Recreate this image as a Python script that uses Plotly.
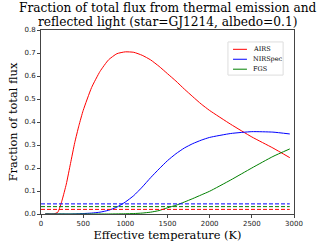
import plotly.graph_objects as go

temps = [50, 100, 150, 200, 250, 300, 350, 400, 450, 500, 600, 700, 800, 900, 1000,
         1100, 1200, 1300, 1400, 1500, 1600, 1700, 1800, 1900, 2000, 2250, 2500, 2750, 2950]
airs = [0, 0, 0, 0.008, 0.06, 0.13, 0.22, 0.31, 0.385, 0.45, 0.55, 0.62, 0.67, 0.697, 0.705,
        0.703, 0.69, 0.67, 0.642, 0.61, 0.578, 0.543, 0.51, 0.478, 0.45, 0.39, 0.335, 0.287, 0.245]
nirspec = [0, 0, 0, 0, 0, 0, 0, 0.0005, 0.001, 0.002, 0.004, 0.008, 0.016, 0.03, 0.052,
           0.08, 0.117, 0.158, 0.196, 0.232, 0.262, 0.287, 0.306, 0.321, 0.333, 0.35, 0.358, 0.356, 0.348]
fgs = [0, 0, 0, 0, 0, 0, 0, 0, 0, 0, 0, 0, 0, 0.0005, 0.001,
       0.002, 0.004, 0.008, 0.015, 0.027, 0.038, 0.052, 0.067, 0.083, 0.099, 0.148, 0.20, 0.25, 0.283]
noise_T = [0, 2950]
noise_airs = [0.02, 0.02]
noise_nirspec = [0.044, 0.044]
noise_fgs = [0.032, 0.032]

names = ["AIRS", "NIRSpec", "FGS"]
colors = ["red", "blue", "green"]
curves = [airs, nirspec, fgs]
noises = [noise_airs, noise_nirspec, noise_fgs]
title_lines = ["Fraction of total flux from thermal emission and",
               "reflected light (star=GJ1214, albedo=0.1)"]

SERIF = "DejaVu Serif, Liberation Serif, serif"

fig = go.Figure()
for n, c, y in zip(names, colors, curves):
    fig.add_trace(go.Scatter(x=temps, y=y, mode="lines", name=n, showlegend=False,
                             line=dict(color=c, width=1, shape="spline", smoothing=0.5)))
for n, c, y in zip(names, colors, noises):
    fig.add_trace(go.Scatter(x=noise_T, y=y, mode="lines", showlegend=False,
                             line=dict(color=c, width=1, dash="4px,2px")))

# legend box (matplotlib style)
lx0, lx1, ly0, ly1 = 0.739, 0.957, 0.935, 0.755
fig.add_shape(type="rect", xref="paper", yref="paper", x0=lx0, x1=lx1, y0=ly1, y1=ly0,
              line=dict(color="#dddddd", width=1), fillcolor="white", layer="above")
for i, (n, c) in enumerate(zip(names, colors)):
    yy = 0.895 - i * 0.054
    fig.add_shape(type="line", xref="paper", yref="paper", x0=lx0 + 0.02, x1=lx0 + 0.075,
                  y0=yy, y1=yy, line=dict(color=c, width=1), layer="above")
    fig.add_annotation(xref="paper", yref="paper", x=lx0 + 0.09, y=yy, text=n,
                       showarrow=False, xanchor="left", yanchor="middle",
                       font=dict(family=SERIF, size=6.5, color="black"))

# title (two lines placed individually)
for line, py in zip(title_lines, [1.118, 1.043]):
    fig.add_annotation(xref="paper", yref="paper", x=0.5, y=py, xanchor="center", yanchor="middle",
                       showarrow=False, text=line,
                       font=dict(family=SERIF, size=12.2, color="black"))

axis_common = dict(showline=True, linecolor="#444", linewidth=1, mirror=True, automargin=False,
                   ticks="outside", ticklen=3, tickcolor="#444", showgrid=False, zeroline=False,
                   tickfont=dict(family="DejaVu Sans", size=7, color="#222"))
fig.update_layout(
    width=327, height=245,
    margin=dict(l=41, r=33, t=30, b=31),
    paper_bgcolor="white", plot_bgcolor="white",
    hovermode=False,
    xaxis=dict(range=[0, 3000], tickvals=[0, 500, 1000, 1500, 2000, 2500, 3000],
               title=dict(text="Effective temperature (K)", standoff=2,
                          font=dict(family=SERIF, size=11.4, color="black")),
               **axis_common),
    yaxis=dict(range=[0, 0.8], tickvals=[0, 0.1, 0.2, 0.3, 0.4, 0.5, 0.6, 0.7, 0.8],
               tickformat=".1f",
               title=dict(text="Fraction of total flux", standoff=4,
                          font=dict(family=SERIF, size=11.4, color="black")),
               **axis_common),
    showlegend=False,
)
fig.write_html("out.html", config={"displayModeBar": False},
               post_script="document.body.style.margin='0';document.body.style.padding='0';")
